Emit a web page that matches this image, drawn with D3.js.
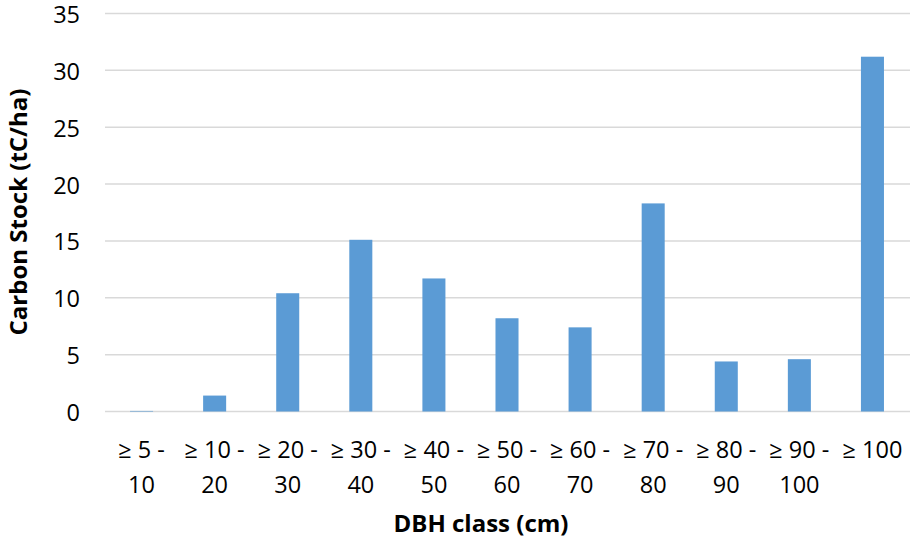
<!DOCTYPE html>
<html lang="en">

<head>
    <meta charset="UTF-8">
    <title>Carbon stock by DBH class</title>
    <script src="https://d3js.org/d3.v7.min.js"></script>
    <style type="text/css">
        body {
            margin: 0;
            background: #fff;
        }

        text {
            font-family: "Open Sans", "Liberation Sans", sans-serif;
            fill: #000;
        }

        .grid line {
            stroke: #d9d9d9;
            stroke-width: 1.5;
        }
    </style>
</head>

<body>
    <div id="graph"></div>
</body>
<script>
    // values
    var classLines = [
        ["≥ 5 -", "10"],
        ["≥ 10 -", "20"],
        ["≥ 20 -", "30"],
        ["≥ 30 -", "40"],
        ["≥ 40 -", "50"],
        ["≥ 50 -", "60"],
        ["≥ 60 -", "70"],
        ["≥ 70 -", "80"],
        ["≥ 80 -", "90"],
        ["≥ 90 -", "100"],
        ["≥ 100"]
    ];
    var carbonStock = [0.05, 1.4, 10.4, 15.1, 11.7, 8.2, 7.4, 18.3, 4.4, 4.6, 31.2];
    var yTicks = [0, 5, 10, 15, 20, 25, 30, 35];

    var width = 910,
        height = 539;

    var svg = d3.select("#graph")
        .append("svg")
        .attr("width", width)
        .attr("height", height);

    var categories = classLines.map(function (d) { return d.join(" "); });

    var xscale = d3.scaleBand()
        .domain(categories)
        .range([105, 909])
        .paddingInner(0.685)
        .paddingOuter(0.3425);

    var yscale = d3.scaleLinear()
        .domain([0, 35])
        .range([411.5, 13.5]);

    // gridlines
    var grid = svg.append("g").attr("class", "grid");
    grid.selectAll("line")
        .data(yTicks)
        .enter().append("line")
        .attr("x1", 105)
        .attr("x2", 910)
        .attr("y1", yscale)
        .attr("y2", yscale);

    // y tick labels
    var y_axis = d3.axisLeft(yscale)
        .tickValues(yTicks)
        .tickSize(0)
        .tickPadding(0);

    var yg = svg.append("g")
        .attr("transform", "translate(80, 1.5)")
        .call(y_axis);
    yg.select(".domain").remove();
    yg.selectAll("text")
        .style("font-size", "23.5px")
        .style("font-family", "'Open Sans', sans-serif")
        .attr("fill", "#000");

    // bars
    svg.selectAll("rect.bar")
        .data(carbonStock)
        .enter()
        .append("rect")
        .attr("class", "bar")
        .attr("x", function (d, i) { return xscale(categories[i]); })
        .attr("width", xscale.bandwidth())
        .attr("y", function (d) { return yscale(d); })
        .attr("height", function (d) { return yscale(0) - yscale(d); })
        .attr("fill", "#5b9bd5");

    // x labels, two lines each
    var xl = svg.selectAll("text.xlab")
        .data(classLines)
        .enter()
        .append("text")
        .attr("class", "xlab")
        .attr("text-anchor", "middle")
        .style("font-size", "23.5px")
        .attr("x", function (d, i) { return xscale(categories[i]) + xscale.bandwidth() / 2; })
        .attr("y", 458);

    xl.selectAll("tspan")
        .data(function (d) { return d; })
        .enter()
        .append("tspan")
        .attr("x", function () { return d3.select(this.parentNode).attr("x"); })
        .attr("dy", function (d, i) { return i == 0 ? 0 : 35; })
        .text(function (d) { return d; });

    // axis titles
    svg.append("text")
        .attr("x", 481)
        .attr("y", 532)
        .attr("text-anchor", "middle")
        .style("font-size", "24px")
        .attr("font-weight", "bold")
        .text("DBH class (cm)");

    svg.append("text")
        .attr("transform", "translate(27, 212) rotate(-90)")
        .attr("text-anchor", "middle")
        .style("font-size", "24px")
        .attr("font-weight", "bold")
        .text("Carbon Stock (tC/ha)");
</script>

</html>
